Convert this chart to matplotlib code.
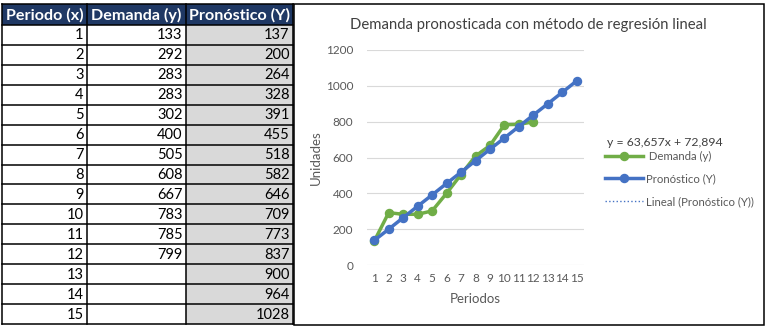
import matplotlib.pyplot as plt
from matplotlib.patches import Rectangle
from matplotlib.lines import Line2D
import numpy as np

# datos de la tabla
periodos = list(range(1, 16))
demanda = [133, 292, 283, 283, 302, 400, 505, 608, 667, 783, 785, 799]
pronostico = [137, 200, 264, 328, 391, 455, 518, 582, 646, 709, 773, 837, 900, 964, 1028]
encabezados = ["Periodo (x)", "Demanda (y)", "Pronóstico (Y)"]

# recta de regresion
pendiente = 63.657
intercepto = 72.894

AZUL = "#4472C4"
VERDE = "#70AD47"
GRIS = "#595959"

plt.rcParams['font.family'] = ['Lato', 'DejaVu Sans']

fig = plt.figure(figsize=(7.7, 3.32), dpi=100)

# tabla estilo excel (coordenadas en pixeles)
tab = fig.add_axes([0, 0, 1, 1])
tab.set_xlim(0, 770)
tab.set_ylim(332, 0)
tab.axis('off')

cols = [2, 87, 186, 293]
y_hdr, y_filas, y_fin = 4, 25, 324
alto = (y_fin - y_filas) / len(periodos)

tab.add_patch(Rectangle((cols[0], y_hdr), cols[3] - cols[0], y_filas - y_hdr,
                        facecolor="#1F3864", edgecolor='none'))
tab.add_patch(Rectangle((cols[2], y_filas), cols[3] - cols[2], y_fin - y_filas,
                        facecolor="#D9D9D9", edgecolor='none'))

for j, h in enumerate(encabezados):
    tab.text((cols[j] + cols[j + 1]) / 2, (y_hdr + y_filas) / 2 + 0.5, h,
             color='white', fontsize=11.6, fontweight='bold', ha='center', va='center')

for i, p in enumerate(periodos):
    yc = y_filas + (i + 0.5) * alto + 0.5
    valores = [p, demanda[i] if i < len(demanda) else None, pronostico[i]]
    for j, v in enumerate(valores):
        if v is None:
            continue
        tab.text(cols[j + 1] - 3.5, yc, str(v), fontsize=10.5, color='black',
                 ha='right', va='center')

# bordes de la tabla
for k in range(len(periodos) + 1):
    y = y_filas + k * alto
    tab.plot([cols[0], cols[3]], [y, y], color='black', lw=1.1)
tab.plot([cols[0], cols[3]], [y_hdr, y_hdr], color='black', lw=1.1)
for x in cols:
    tab.plot([x, x], [y_hdr, y_fin], color='black', lw=1.1)

# marco del grafico
tab.add_patch(Rectangle((294, 4), 470, 321, facecolor='none', edgecolor='black', lw=1.1))

# grafico de lineas
ax = fig.add_axes([367 / 770, (332 - 265) / 332, 217 / 770, 215 / 332])
x = np.array(periodos)
ax.plot(periodos[:len(demanda)], demanda, color=VERDE, lw=2.5, marker='o', ms=5.8, zorder=3)
ax.plot(x, pendiente * x + intercepto, color=AZUL, lw=1, ls=':', zorder=2)
ax.plot(periodos, pronostico, color=AZUL, lw=2.5, marker='o', ms=5.8, zorder=4)

ax.set_xlim(0.5, 15.5)
ax.set_ylim(0, 1200)
ax.set_yticks(range(0, 1201, 200))
ax.set_xticks(periodos)
ax.grid(axis='y', color='#D9D9D9', lw=0.8)
ax.set_axisbelow(True)
for s in ax.spines.values():
    s.set_visible(False)
ax.tick_params(length=0, labelsize=8.5, labelcolor=GRIS)
ax.tick_params(axis='y', pad=10)
ax.tick_params(axis='x', pad=6)
ax.set_ylabel("Unidades", fontsize=9.5, color=GRIS, labelpad=3)
ax.set_xlabel("Periodos", fontsize=9.5, color=GRIS, labelpad=6)

fig.text(528 / 770, 1 - 25 / 332, "Demanda pronosticada con método de regresión lineal",
         fontsize=10.7, color='#404040', ha='center', va='center')

# leyenda y ecuacion de la tendencia
ecuacion = "y = {:.3f}x + {:.3f}".format(pendiente, intercepto).replace('.', ',')
fig.text(665 / 770, 1 - 142 / 332, ecuacion, fontsize=8.8, color='#404040',
         ha='center', va='center')
handles = [Line2D([], [], color=VERDE, lw=2.5, marker='o', ms=5.8),
           Line2D([], [], color=AZUL, lw=2.5, marker='o', ms=5.8),
           Line2D([], [], color=AZUL, lw=1, ls=':')]
fig.legend(handles, [" Demanda (y)", "Pronóstico (Y)", "Lineal (Pronóstico (Y))"],
           loc='upper left', bbox_to_anchor=(605 / 770, 1 - 151 / 332),
           frameon=False, fontsize=8.2, labelcolor=GRIS, handlelength=3.3,
           handletextpad=0.3, labelspacing=1.0, borderpad=0, borderaxespad=0)

fig.savefig("out.png", dpi=100)
